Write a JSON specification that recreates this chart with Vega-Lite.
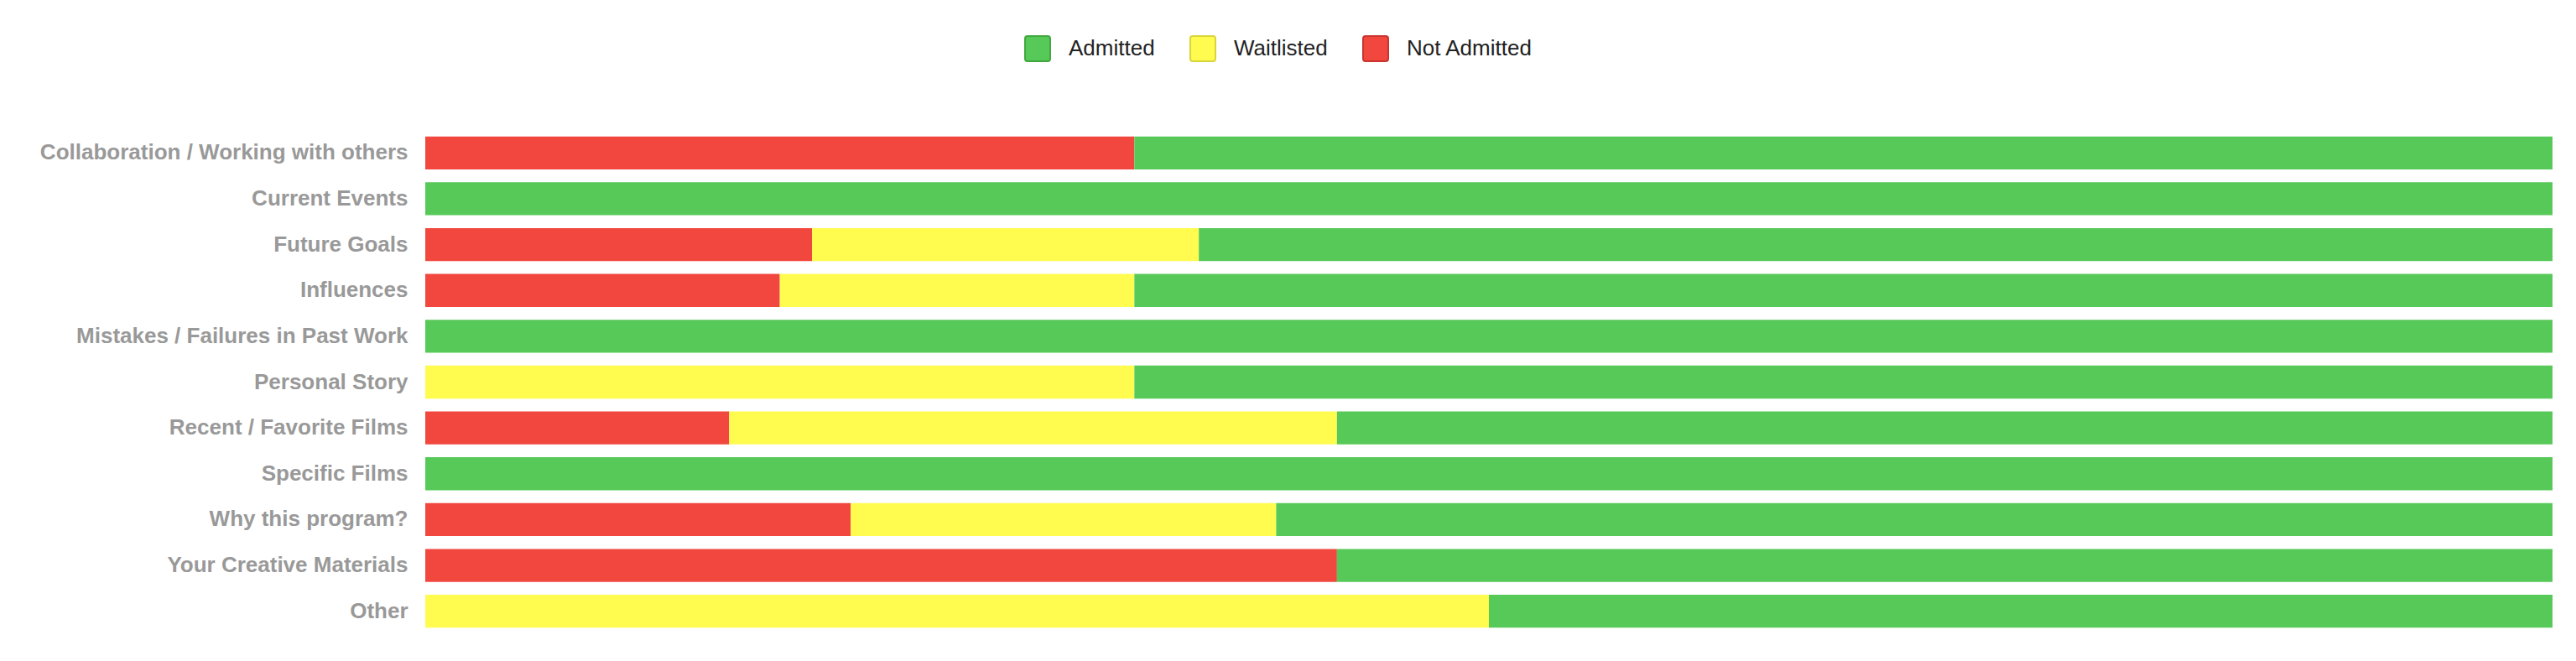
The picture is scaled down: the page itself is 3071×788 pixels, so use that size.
{
  "$schema": "https://vega.github.io/schema/vega-lite/v6.json",
  "width": 2536,
  "height": 601,
  "autosize": {"type": "none"},
  "padding": {"left": 507, "top": 155, "right": 28, "bottom": 32},
  "background": "#FFFFFF",
  "view": {"stroke": null},
  "data": {
    "values": [
      {"topic": "Collaboration / Working with others", "status": "Not Admitted", "rank": 1, "count": 1},
      {"topic": "Collaboration / Working with others", "status": "Admitted", "rank": 3, "count": 2},
      {"topic": "Current Events", "status": "Admitted", "rank": 3, "count": 1},
      {"topic": "Future Goals", "status": "Not Admitted", "rank": 1, "count": 2},
      {"topic": "Future Goals", "status": "Waitlisted", "rank": 2, "count": 2},
      {"topic": "Future Goals", "status": "Admitted", "rank": 3, "count": 7},
      {"topic": "Influences", "status": "Not Admitted", "rank": 1, "count": 1},
      {"topic": "Influences", "status": "Waitlisted", "rank": 2, "count": 1},
      {"topic": "Influences", "status": "Admitted", "rank": 3, "count": 4},
      {"topic": "Mistakes / Failures in Past Work", "status": "Admitted", "rank": 3, "count": 1},
      {"topic": "Personal Story", "status": "Waitlisted", "rank": 2, "count": 1},
      {"topic": "Personal Story", "status": "Admitted", "rank": 3, "count": 2},
      {"topic": "Recent / Favorite Films", "status": "Not Admitted", "rank": 1, "count": 1},
      {"topic": "Recent / Favorite Films", "status": "Waitlisted", "rank": 2, "count": 2},
      {"topic": "Recent / Favorite Films", "status": "Admitted", "rank": 3, "count": 4},
      {"topic": "Specific Films", "status": "Admitted", "rank": 3, "count": 1},
      {"topic": "Why this program?", "status": "Not Admitted", "rank": 1, "count": 1},
      {"topic": "Why this program?", "status": "Waitlisted", "rank": 2, "count": 1},
      {"topic": "Why this program?", "status": "Admitted", "rank": 3, "count": 3},
      {"topic": "Your Creative Materials", "status": "Not Admitted", "rank": 1, "count": 3},
      {"topic": "Your Creative Materials", "status": "Admitted", "rank": 3, "count": 4},
      {"topic": "Other", "status": "Waitlisted", "rank": 2, "count": 1},
      {"topic": "Other", "status": "Admitted", "rank": 3, "count": 1}
    ]
  },
  "mark": {"type": "bar", "strokeWidth": 0},
  "encoding": {
    "y": {
      "field": "topic",
      "type": "nominal",
      "sort": [
        "Collaboration / Working with others",
        "Current Events",
        "Future Goals",
        "Influences",
        "Mistakes / Failures in Past Work",
        "Personal Story",
        "Recent / Favorite Films",
        "Specific Films",
        "Why this program?",
        "Your Creative Materials",
        "Other"
      ],
      "scale": {"paddingInner": 0.28, "paddingOuter": 0.14},
      "axis": {
        "title": null,
        "domain": false,
        "ticks": false,
        "labelFont": "Liberation Sans",
        "labelFontWeight": "bold",
        "labelFontSize": 26,
        "labelColor": "#999999",
        "labelPadding": 21,
        "labelLimit": 0
      }
    },
    "x": {
      "field": "count",
      "type": "quantitative",
      "stack": "normalize",
      "axis": null
    },
    "order": {"field": "rank", "type": "quantitative"},
    "color": {
      "field": "status",
      "type": "nominal",
      "scale": {
        "domain": ["Admitted", "Waitlisted", "Not Admitted"],
        "range": ["#57C958", "#FFFB4F", "#F1473F"]
      },
      "legend": {
        "title": null,
        "orient": "none",
        "direction": "horizontal",
        "legendX": 714,
        "legendY": -113,
        "symbolType": "M-0.8,-1H0.8Q1,-1 1,-0.8V0.8Q1,1 0.8,1H-0.8Q-1,1 -1,0.8V-0.8Q-1,-1 -0.8,-1Z",
        "symbolSize": 900,
        "symbolStrokeWidth": 2,
        "symbolOpacity": 1,
        "labelFont": "Liberation Sans",
        "labelFontSize": 26,
        "labelColor": "#222222",
        "labelOffset": 21,
        "columnPadding": 38
      }
    },
    "stroke": {
      "field": "status",
      "type": "nominal",
      "scale": {
        "domain": ["Admitted", "Waitlisted", "Not Admitted"],
        "range": ["#3FA83F", "#D9D43A", "#C9352E"]
      },
      "legend": {
        "title": null,
        "orient": "none",
        "direction": "horizontal",
        "legendX": 714,
        "legendY": -113,
        "symbolType": "M-0.8,-1H0.8Q1,-1 1,-0.8V0.8Q1,1 0.8,1H-0.8Q-1,1 -1,0.8V-0.8Q-1,-1 -0.8,-1Z",
        "symbolSize": 900,
        "symbolStrokeWidth": 2,
        "labelFont": "Liberation Sans",
        "labelFontSize": 26,
        "labelColor": "#222222",
        "labelOffset": 21,
        "columnPadding": 38
      }
    }
  }
}
